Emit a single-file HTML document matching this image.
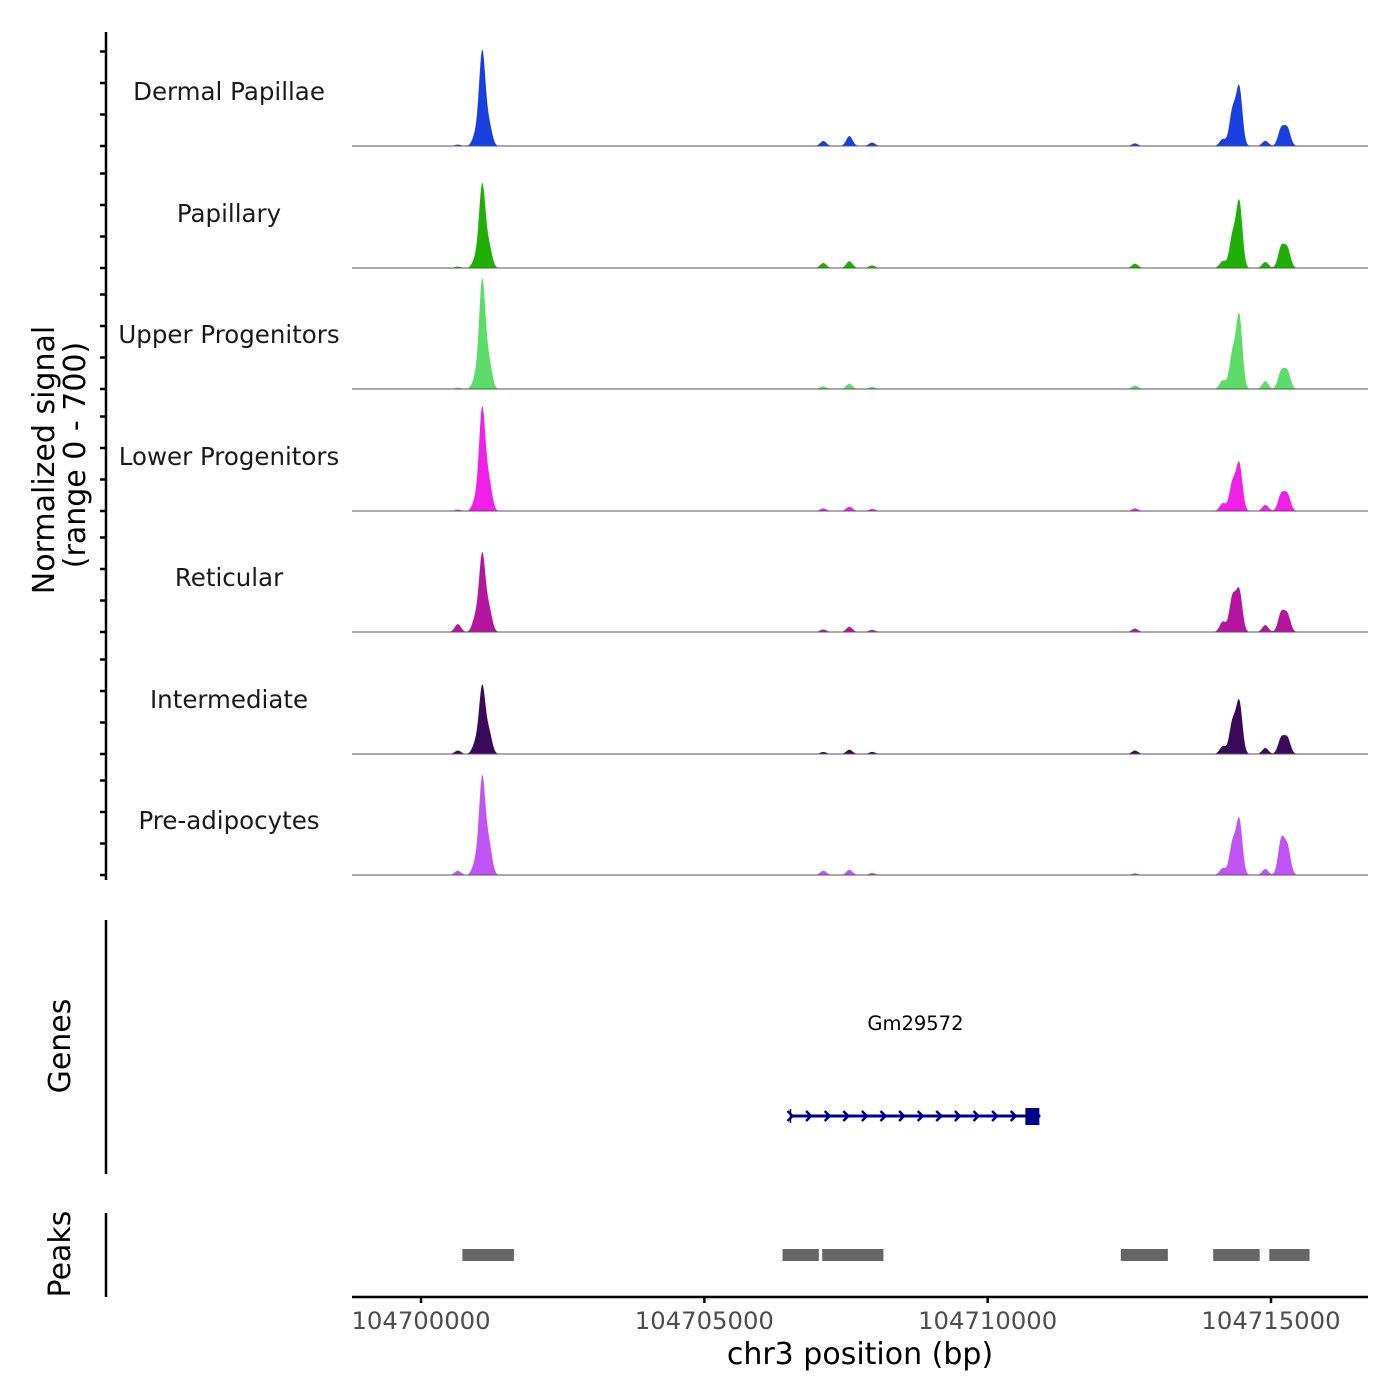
<!DOCTYPE html>
<html><head><meta charset="utf-8"><style>
html,body{margin:0;padding:0;background:#fff;}
svg{display:block;font-family:"DejaVu Sans","Liberation Sans",sans-serif;}
</style></head><body>
<svg id="chart" width="1400" height="1400" viewBox="0 0 1400 1400" xmlns="http://www.w3.org/2000/svg">
<g id="tracks"></g>
<g id="leftaxis"></g>
<text transform="translate(54,460) rotate(-90)" text-anchor="middle" font-size="30" fill="#000">Normalized signal</text>
<text transform="translate(85,455) rotate(-90)" text-anchor="middle" font-size="30" fill="#000">(range 0 - 700)</text>
<line x1="106" y1="920" x2="106" y2="1174" stroke="#000" stroke-width="2.5"/>
<text transform="translate(70,1046) rotate(-90)" text-anchor="middle" font-size="30">Genes</text>
<g id="gene"></g>
<line x1="106" y1="1213" x2="106" y2="1297" stroke="#000" stroke-width="2.5"/>
<text transform="translate(70,1254) rotate(-90)" text-anchor="middle" font-size="30">Peaks</text>
<g id="peaks"></g>
<g id="xaxis"></g>
<text x="860" y="1364" text-anchor="middle" font-size="30">chr3 position (bp)</text>
</svg>
<script>
const trackNames = ["Dermal Papillae","Papillary","Upper Progenitors","Lower Progenitors","Reticular","Intermediate","Pre-adipocytes"];
const trackColors = ["#1a3fe0","#1faf05","#5edc6a","#f020e8","#b5169f","#3a0a5a","#c055f5"];
// peak centers (bp) shared across tracks
const peakCenters = [104700650,104700960,104701080,104701200,104707100,104707560,104707960,104712600,104714150,104714320,104714440,104714900,104715180,104715290];
// signal height (0-700) per track at each peak center
const peakValues = [
 [8,60,544,120,29,58,20,15,40,200,336,30,100,100],
 [8,50,480,120,29,40,15,25,40,180,382,35,120,110],
 [8,60,625,150,15,30,12,20,50,200,423,45,100,100],
 [8,60,590,160,15,25,12,15,45,160,272,35,95,95],
 [46,80,446,130,15,30,12,20,60,200,237,40,110,100],
 [20,60,388,120,12,25,12,20,45,180,300,35,90,90],
 [25,70,560,170,25,30,12,10,40,180,318,35,200,160]
];
const peakRegions = [[104700730,104701640],[104706380,104707020],[104707080,104708160],[104712350,104713180],[104713980,104714800],[104714970,104715680]];
const geneStart = 104706520, geneEnd = 104710930;
const xTicks = [104700000,104705000,104710000,104715000];
const xMin = 104698782, xMax = 104716712;
const vMax = 700;

const NS="http://www.w3.org/2000/svg";
function mk(tag, attrs, parent){const e=document.createElementNS(NS,tag);for(const k in attrs)e.setAttribute(k,attrs[k]);parent.appendChild(e);return e;}
const X0=352,X1=1368;
function xs(bp){return X0+(bp-xMin)/(xMax-xMin)*(X1-X0);}
const baselines=[146,268,389,511,632,754,875];
const trackH=121;
function ys(v,b){return b-v/vMax*trackH;}

const tg=document.getElementById('tracks');
const la=document.getElementById('leftaxis');
const ax=mk('line',{x1:106,y1:32,x2:106,y2:880,stroke:'#000','stroke-width':2.5},la);


baselines.forEach((b,i)=>{
  for(let k=0;k<4;k++){
    const t=mk('line',{x1:100,x2:106,y1:b-k*31.5,y2:b-k*31.5,stroke:'#000','stroke-width':2.5},la);
    
    
  }
  const g=mk('g',{},tg);
  
  
  let d='M'+X0+','+b;
  for(let px=X0;px<=X1;px+=1){
    const bp=xMin+(px-X0)/(X1-X0)*(xMax-xMin);
    let v=0;
    peakCenters.forEach((c,j)=>{
      const z=(bp-c)/55; v+=peakValues[i][j]*Math.exp(-0.5*z*z);
    });
    d+=' L'+px+','+ys(v,b).toFixed(2);
  }
  d+=' L'+X1+','+b+' Z';
  const p=mk('path',{d:d,fill:trackColors[i]},g);
  
  
  const bl=mk('line',{x1:X0,x2:X1,y1:b,y2:b,stroke:'#555','stroke-width':1},g);
  
  
  const lt=mk('text',{x:229,y:b-46,'text-anchor':'middle','font-size':24.5,fill:'#1a1a1a'},g);
  lt.textContent=trackNames[i];
  
  
});

// gene
const gg=document.getElementById('gene');
const gx0=xs(geneStart), gx1=xs(geneEnd), gy=1116;
mk('line',{x1:gx0,x2:gx1,y1:gy,y2:gy,stroke:'#00008b','stroke-width':3},gg);
mk('line',{x1:gx0,x2:gx0,y1:gy-7,y2:gy+7,stroke:'#00008b','stroke-width':1.5},gg);
for(let ax2=gx0;ax2<gx1-20;ax2+=18.6){
  mk('polyline',{points:(ax2-3)+','+(gy-5)+' '+(ax2+2)+','+gy+' '+(ax2-3)+','+(gy+5),fill:'none',stroke:'#00008b','stroke-width':2.5},gg);
}
mk('rect',{x:gx1-15,y:gy-8,width:14,height:17,fill:'#00008b'},gg);
const gl=mk('text',{x:(gx0+gx1)/2,y:1030,'text-anchor':'middle','font-size':19.5},gg);
gl.textContent='Gm29572';



// peaks
const pg=document.getElementById('peaks');
peakRegions.forEach(r=>{
  const e=mk('rect',{x:xs(r[0]),y:1249,width:xs(r[1])-xs(r[0]),height:12,fill:'#666'},pg);
  
  
});

// x axis
const xg=document.getElementById('xaxis');
mk('line',{x1:X0,x2:X1,y1:1297,y2:1297,stroke:'#000','stroke-width':2.5},xg);
xTicks.forEach(t=>{
  const tk=mk('line',{x1:xs(t),x2:xs(t),y1:1297,y2:1303,stroke:'#000','stroke-width':2.5},xg);
  
  
  const tl=mk('text',{x:xs(t),y:1329,'text-anchor':'middle','font-size':24.3,fill:'#4d4d4d'},xg);
  tl.textContent=t;
  
  
});
</script>
</body></html>
